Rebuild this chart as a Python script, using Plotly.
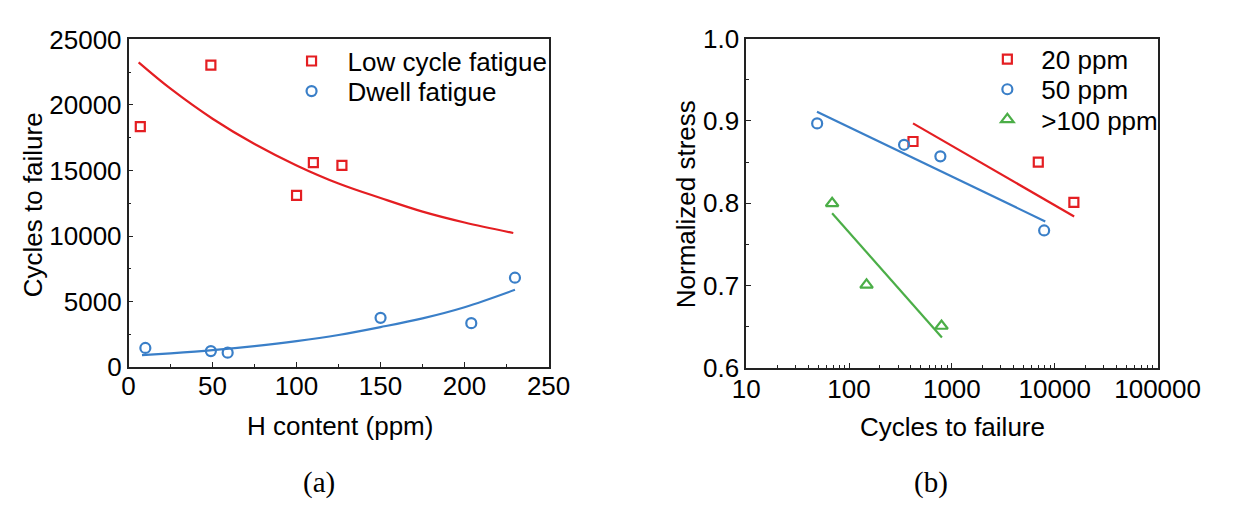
import plotly.graph_objects as go

# ---------------- Panel (a) data ----------------
lcf_h = [7, 49, 100, 110, 127]
lcf_cycles = [18350, 23050, 13100, 15600, 15400]
dwell_h = [10, 49, 59, 150, 204, 230]
dwell_cycles = [1460, 1220, 1100, 3760, 3350, 6820]

# fitted curves
lcf_fit_h = [6, 25, 50, 75, 100, 125, 150, 175, 200, 229]
lcf_fit_cycles = [23250, 21240, 18950, 17020, 15390, 14010, 12900, 11860, 11030, 10230]
dwell_fit_h = [8, 25, 50, 75, 100, 125, 150, 175, 200, 230]
dwell_fit_cycles = [910, 1050, 1290, 1600, 1980, 2450, 3050, 3720, 4570, 5900]

# ---------------- Panel (b) data ----------------
p20_cycles = [419, 6920, 15350]
p20_stress = [0.875, 0.850, 0.801]
p50_cycles = [49, 343, 773, 7890]
p50_stress = [0.897, 0.871, 0.857, 0.767]
p100_cycles = [68.5, 148, 793]
p100_stress = [0.800, 0.701, 0.651]

p20_fit_cycles = [419, 15450]
p20_fit_stress = [0.897, 0.784]
p50_fit_cycles = [48.8, 8090]
p50_fit_stress = [0.911, 0.778]
p100_fit_cycles = [68.5, 800]
p100_fit_stress = [0.788, 0.637]

x_ticks_b = [10, 100, 1000, 10000, 100000]
x_ticklabels_b = ["10", "100", "1000", "10000", "100000"]
x_minor_b = [m * d for d in (10, 100, 1000, 10000) for m in range(2, 10)]

RED = "#e41e22"
BLUE = "#3a7fc8"
GREEN = "#4bae47"
FONT = "Liberation Sans"
FS = 26
AX = "#222222"

W, H = 1255, 512
def px(x):
    return x / W
def py(y):
    return (H - y) / H

fig = go.Figure()

line_w = 2.2
msize = 9
mline = 2.2

# panel (a)
fig.add_trace(go.Scatter(x=lcf_fit_h, y=lcf_fit_cycles, mode="lines", line=dict(color=RED, width=line_w, shape="spline"),
                         showlegend=False, xaxis="x", yaxis="y"))
fig.add_trace(go.Scatter(x=dwell_fit_h, y=dwell_fit_cycles, mode="lines", line=dict(color=BLUE, width=line_w, shape="spline"),
                         showlegend=False, xaxis="x", yaxis="y"))
fig.add_trace(go.Scatter(x=lcf_h, y=lcf_cycles, mode="markers", name="Low cycle fatigue",
                         marker=dict(symbol="square-open", color=RED, size=msize, line=dict(width=mline)),
                         xaxis="x", yaxis="y", legend="legend"))
fig.add_trace(go.Scatter(x=dwell_h, y=dwell_cycles, mode="markers", name="Dwell fatigue",
                         marker=dict(symbol="circle-open", color=BLUE, size=msize + 1, line=dict(width=mline)),
                         xaxis="x", yaxis="y", legend="legend2"))

# panel (b)
fig.add_trace(go.Scatter(x=p20_fit_cycles, y=p20_fit_stress, mode="lines", line=dict(color=RED, width=line_w),
                         showlegend=False, xaxis="x2", yaxis="y2"))
fig.add_trace(go.Scatter(x=p50_fit_cycles, y=p50_fit_stress, mode="lines", line=dict(color=BLUE, width=line_w),
                         showlegend=False, xaxis="x2", yaxis="y2"))
fig.add_trace(go.Scatter(x=p100_fit_cycles, y=p100_fit_stress, mode="lines", line=dict(color=GREEN, width=line_w),
                         showlegend=False, xaxis="x2", yaxis="y2"))
fig.add_trace(go.Scatter(x=p20_cycles, y=p20_stress, mode="markers", name="20 ppm",
                         marker=dict(symbol="square-open", color=RED, size=msize, line=dict(width=mline)),
                         xaxis="x2", yaxis="y2", legend="legend3"))
fig.add_trace(go.Scatter(x=p50_cycles, y=p50_stress, mode="markers", name="50 ppm",
                         marker=dict(symbol="circle-open", color=BLUE, size=msize + 1, line=dict(width=mline)),
                         xaxis="x2", yaxis="y2", legend="legend4"))
fig.add_trace(go.Scatter(x=p100_cycles, y=p100_stress, mode="markers", name=">100 ppm",
                         marker=dict(symbol="triangle-up-open", color=GREEN, size=msize + 2, line=dict(width=mline)),
                         xaxis="x2", yaxis="y2", legend="legend5"))

axis_common = dict(showline=True, linecolor=AX, linewidth=1.5, mirror=True, showgrid=False, zeroline=False,
                   ticks="inside", ticklen=5, tickwidth=1.3, tickcolor=AX,
                   tickfont=dict(family=FONT, size=FS, color="black"))

def leg(xl, yc, iw):
    return dict(x=px(xl), y=py(yc), xanchor="left", yanchor="top", bgcolor="rgba(0,0,0,0)",
                font=dict(family=FONT, size=FS, color="black"), itemwidth=iw, borderwidth=0)

fig.update_layout(
    width=W, height=H, margin=dict(l=0, r=0, t=0, b=0),
    paper_bgcolor="white", plot_bgcolor="white",
    font=dict(family=FONT, size=FS, color="black"),
    xaxis=dict(domain=[px(120), px(560)], range=[0, 250], dtick=50, ticklabelstandoff=-5,
               minor=dict(dtick=25, ticks="inside", ticklen=3, tickcolor=AX), anchor="y", **axis_common),
    yaxis=dict(domain=[py(374), py(26)], range=[0, 25000], dtick=5000, tickformat="d",
               minor=dict(dtick=2500, ticks="inside", ticklen=3, tickcolor=AX), anchor="x", **axis_common),
    xaxis2=dict(domain=[px(767), px(1198)], type="log", range=[1, 5], ticklabelstandoff=-3,
                tickvals=x_ticks_b, ticktext=x_ticklabels_b,
                minor=dict(tickvals=x_minor_b, ticks="inside", ticklen=3, tickcolor=AX), anchor="y2", **axis_common),
    yaxis2=dict(domain=[py(375), py(25)], range=[0.6, 1.0], dtick=0.1, tickformat=".1f",
                minor=dict(dtick=0.05, ticks="inside", ticklen=3, tickcolor=AX), anchor="x2", **axis_common),
    legend=leg(274, 24, 62),
    legend2=leg(274, 56, 62),
    legend3=leg(1005, 22, 58),
    legend4=leg(1005, 54, 58),
    legend5=leg(1005, 86, 58),
    annotations=[
        dict(text="Cycles to failure", x=px(20), y=py(202), xref="paper", yref="paper", textangle=-90,
             showarrow=False, xanchor="center", yanchor="middle", font=dict(family=FONT, size=FS)),
        dict(text="H content (ppm)", x=px(341), y=py(437), xref="paper", yref="paper",
             showarrow=False, xanchor="center", yanchor="middle", font=dict(family=FONT, size=FS)),
        dict(text="Normalized stress", x=px(704), y=py(201), xref="paper", yref="paper", textangle=-90,
             showarrow=False, xanchor="center", yanchor="middle", font=dict(family=FONT, size=FS)),
        dict(text="Cycles to failure", x=px(983), y=py(438), xref="paper", yref="paper",
             showarrow=False, xanchor="center", yanchor="middle", font=dict(family=FONT, size=FS)),
        dict(text="(a)", x=px(320), y=py(497), xref="paper", yref="paper",
             showarrow=False, xanchor="center", yanchor="middle", font=dict(family="Liberation Serif", size=29)),
        dict(text="(b)", x=px(961), y=py(497), xref="paper", yref="paper",
             showarrow=False, xanchor="center", yanchor="middle", font=dict(family="Liberation Serif", size=29)),
    ],
)

fig.write_html("out.html")
